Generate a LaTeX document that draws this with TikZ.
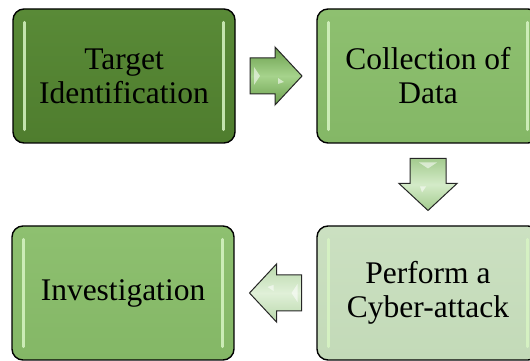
\documentclass[tikz,border=0pt]{standalone}
\usepackage{fontspec}
\setmainfont{Liberation Serif}
\usetikzlibrary{calc}
\definecolor{boxA}{HTML}{4F7D2E}
\definecolor{boxAtop}{HTML}{598A37}
\definecolor{boxB}{HTML}{84B766}
\definecolor{boxBtop}{HTML}{8EC070}
\definecolor{boxD}{HTML}{C3DAB8}
\definecolor{boxDtop}{HTML}{CBE0C1}
\definecolor{glint}{HTML}{D8F5C4}
\definecolor{arrA}{HTML}{6A9E4C}
\definecolor{arrAmid}{HTML}{A6D38C}
\definecolor{arrB}{HTML}{A3CB8E}
\definecolor{arrBmid}{HTML}{D4EBC8}
\definecolor{arrC}{HTML}{B9D8AB}
\definecolor{arrCmid}{HTML}{E0F0D8}
\tikzset{
  stage/.style={draw=black, line width=1.4pt, rounded corners=11pt,
    minimum width=222pt, minimum height=134pt, inner sep=0pt,
    align=center, font=\fontsize{31.5}{34}\selectfont},
  arrowline/.style={draw=black!85, line width=1pt, line join=miter},
  glossbar/.style={glint, line width=3pt, line cap=round, opacity=0.85},
  pics/blockarr/.style 2 args={code={
    \path[arrowline, top color=#1, bottom color=#1, middle color=#2]
      (-26,-18) -- (-1,-18) -- (-1,-29) -- (26,0) -- (-1,29) -- (-1,18) -- (-26,18) -- cycle;
    \fill[white, opacity=0.55] (-22,-9) -- (-16,0) -- (-22,9) -- cycle;
    \fill[white, opacity=0.55] (8,-6) -- (2,-2) -- (2,-8) -- cycle;
  }}
}
\begin{document}
\begin{tikzpicture}[x=1pt,y=1pt]
\useasboundingbox (0,0) rectangle (530,361);
\clip (0,0) rectangle (530,361);
\node[stage, top color=boxAtop, bottom color=boxA] (target) at (124,285) {Target\\Identification};
\node[stage, top color=boxBtop, bottom color=boxB] (collect) at (428,285) {Collection of\\Data};
\node[stage, top color=boxBtop, bottom color=boxB] (invest) at (123,68) {Investigation};
\node[stage, top color=boxDtop, bottom color=boxD] (attack) at (428,68) {Perform a\\Cyber-attack};
\foreach \b in {target,collect,invest,attack}{
  \draw[glossbar] ([xshift=12pt,yshift=14pt]\b.south west) -- ([xshift=12pt,yshift=-14pt]\b.north west);
  \draw[glossbar] ([xshift=-12pt,yshift=14pt]\b.south east) -- ([xshift=-12pt,yshift=-14pt]\b.north east);
}
\coordinate (m1) at ($(target.east)!0.5!(collect.west)$);
\coordinate (m2) at ($(collect.south)!0.5!(attack.north)$);
\coordinate (m3) at ($(attack.west)!0.5!(invest.east)$);
\pic at (m1) {blockarr={arrA}{arrAmid}};
\pic[rotate=-90] at (m2) {blockarr={arrB}{arrBmid}};
\pic[rotate=180] at (m3) {blockarr={arrC}{arrCmid}};
\end{tikzpicture}
\end{document}
